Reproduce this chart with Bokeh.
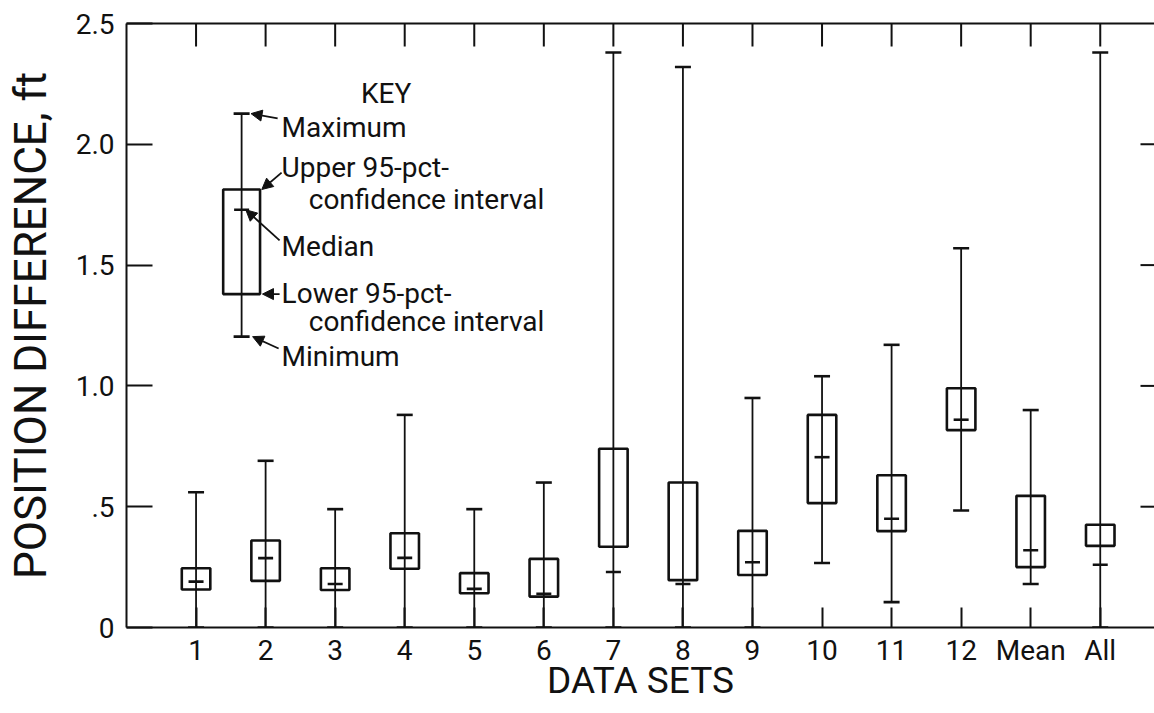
import math
from bokeh.plotting import figure
from bokeh.models import Range1d, LinearAxis, FixedTicker, Arrow, NormalHead, Label, ColumnDataSource
from bokeh.embed import file_html
from bokeh.resources import INLINE

# ---------------- data ----------------
categories = ["1", "2", "3", "4", "5", "6", "7", "8", "9", "10", "11", "12", "Mean", "All"]
maximum = [0.56, 0.69, 0.49, 0.88, 0.49, 0.60, 2.38, 2.32, 0.95, 1.04, 1.17, 1.57, 0.90, 2.38]
upper   = [0.245, 0.36, 0.245, 0.39, 0.225, 0.284, 0.74, 0.60, 0.40, 0.88, 0.63, 0.99, 0.545, 0.425]
median  = [0.19, 0.287, 0.18, 0.288, 0.16, 0.14, 0.23, 0.18, 0.27, 0.705, 0.45, 0.86, 0.32, 0.26]
lower   = [0.157, 0.193, 0.155, 0.243, 0.142, 0.128, 0.334, 0.196, 0.217, 0.515, 0.399, 0.817, 0.25, 0.338]
minimum = [0.0, 0.0, 0.0, 0.0, 0.0, 0.0, 0.0, 0.0, 0.0, 0.267, 0.105, 0.484, 0.18, 0.0]

y_ticks = [0, 0.5, 1.0, 1.5, 2.0, 2.5]
y_tick_labels = ["0", ".5", "1.0", "1.5", "2.0", "2.5"]
right_ticks = [0.5, 1.0, 1.5, 2.0]

# key (legend) example box
key_min, key_lower, key_median, key_upper, key_max = 1.204, 1.38, 1.729, 1.813, 2.127

FONT = "Roboto"
INK = "#111111"

positions = list(range(1, len(categories) + 1))
src = ColumnDataSource(dict(x=positions, mx=maximum, up=upper, md=median, lo=lower, mn=minimum))

X_END, Y_END = 14.78, 2.5
p = figure(width=1154, height=713, output_backend="svg", toolbar_location=None,
           x_range=Range1d(0, X_END), y_range=Range1d(0, Y_END),
           min_border_left=126, min_border_right=0, min_border_top=23, min_border_bottom=86)
p.outline_line_color = None
p.xgrid.visible = False
p.ygrid.visible = False
p.background_fill_color = "white"
p.border_fill_color = "white"

# bottom axis
xa = p.xaxis[0]
xa.ticker = FixedTicker(ticks=positions)
xa.major_label_overrides = {pos: lab for pos, lab in zip(positions, categories)}
xa.major_tick_in = 20
xa.major_tick_out = 0
xa.minor_tick_line_color = None
xa.axis_line_width = 2
xa.axis_line_color = INK
xa.major_tick_line_width = 2
xa.major_tick_line_color = INK
xa.major_label_text_font = FONT
xa.major_label_text_font_size = "28px"
xa.major_label_text_color = INK
xa.major_label_standoff = 6
xa.axis_label = "DATA SETS"
xa.axis_label_text_font = FONT
xa.axis_label_text_font_size = "37px"
xa.axis_label_text_font_style = "normal"
xa.axis_label_text_color = INK
xa.axis_label_standoff = -11

# left axis
ya = p.yaxis[0]
ya.ticker = FixedTicker(ticks=y_ticks)
ya.major_label_overrides = {t: l for t, l in zip(y_ticks, y_tick_labels)}
ya.major_tick_in = 26
ya.major_tick_out = 0
ya.minor_tick_line_color = None
ya.axis_line_width = 2
ya.axis_line_color = INK
ya.major_tick_line_width = 2
ya.major_tick_line_color = INK
ya.major_label_text_font = FONT
ya.major_label_text_font_size = "28px"
ya.major_label_text_color = INK
ya.major_label_standoff = 12
ya.axis_label = "POSITION DIFFERENCE, ft"
ya.axis_label_text_font = FONT
ya.axis_label_text_font_size = "44px"
ya.axis_label_text_font_style = "normal"
ya.axis_label_text_color = INK
ya.axis_label_standoff = 16

# top spine (no labels)
top = LinearAxis(ticker=FixedTicker(ticks=[]), major_tick_in=0, major_tick_out=0,
                 minor_tick_line_color=None, axis_line_width=2, axis_line_color=INK)
p.add_layout(top, "above")

# inward tick marks on the top and right edges (half of each dash is clipped by the frame)
p.scatter(x=positions, y=[Y_END] * len(positions), marker="dash", angle=math.pi / 2,
          size=46, line_color=INK, line_width=2)
p.scatter(x=[X_END] * len(right_ticks), y=right_ticks, marker="dash",
          size=28, line_color=INK, line_width=2)

# ---------------- data glyphs ----------------
p.segment(x0="x", y0="mn", x1="x", y1="mx", source=src, line_color=INK, line_width=1.8)
p.vbar(x="x", width=0.41, bottom="lo", top="up", source=src, fill_alpha=0,
       line_color=INK, line_width=2.6)
p.scatter(x="x", y="mx", source=src, marker="dash", size=16, line_color=INK, line_width=2.6)
p.scatter(x="x", y="mn", source=src, marker="dash", size=16, line_color=INK, line_width=2.6)
p.scatter(x="x", y="md", source=src, marker="dash", size=15, line_color=INK, line_width=2.6)

# ---------------- key ----------------
key_x = 1.655
ksrc = ColumnDataSource(dict(x=[key_x], mx=[key_max], up=[key_upper], md=[key_median],
                             lo=[key_lower], mn=[key_min]))
p.segment(x0="x", y0="mn", x1="x", y1="mx", source=ksrc, line_color=INK, line_width=1.8)
p.vbar(x="x", width=0.53, bottom="lo", top="up", source=ksrc, fill_alpha=0,
       line_color=INK, line_width=2.6)
p.scatter(x="x", y="mx", source=ksrc, marker="dash", size=16, line_color=INK, line_width=2.6)
p.scatter(x="x", y="mn", source=ksrc, marker="dash", size=16, line_color=INK, line_width=2.6)
p.scatter(x="x", y="md", source=ksrc, marker="dash", size=15, line_color=INK, line_width=2.6)

key_texts = [
    ("KEY", 3.37, 2.210),
    ("Maximum", 2.23, 2.068),
    ("Upper 95-pct-", 2.23, 1.906),
    ("confidence interval", 2.62, 1.770),
    ("Median", 2.23, 1.576),
    ("Lower 95-pct-", 2.23, 1.381),
    ("confidence interval", 2.62, 1.265),
    ("Minimum", 2.23, 1.120),
]
for txt, tx, ty in key_texts:
    p.add_layout(Label(x=tx, y=ty, text=txt, text_font=FONT, text_font_size="28px",
                       text_color=INK, text_baseline="alphabetic", text_align="left"))

key_arrows = [
    ((2.173, 2.107), (1.790, key_max)),
    ((2.230, 1.883), (1.945, key_upper)),
    ((2.201, 1.602), (1.715, key_median)),
    ((2.201, key_lower), (1.955, key_lower)),
    ((2.187, 1.155), (1.813, key_min)),
]
for (sx, sy), (ex, ey) in key_arrows:
    p.add_layout(Arrow(x_start=sx, y_start=sy, x_end=ex, y_end=ey, line_color=INK, line_width=1.8,
                       end=NormalHead(size=11, fill_color=INK, line_color=INK, line_width=1)))

open("out.html", "w").write(file_html(p, INLINE))
